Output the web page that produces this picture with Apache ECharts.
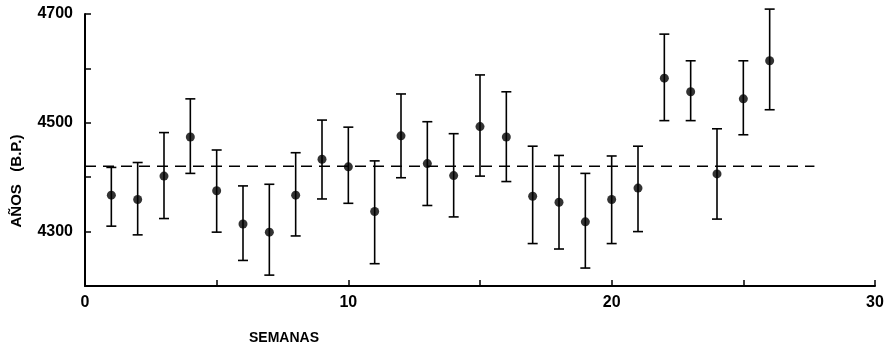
<!DOCTYPE html>
<html>
<head>
<meta charset="utf-8">
<script src="https://cdn.jsdelivr.net/npm/echarts@6/dist/echarts.min.js"></script>
<style>
html,body{margin:0;padding:0;background:#fff;}
#chart{width:894px;height:346px;}
</style>
</head>
<body>
<div id="chart"></div>
<script>
var weeks = [1,2,3,4,5,6,7,8,9,10,11,12,13,14,15,16,17,18,19,20,21,22,23,24,25,26];
var ages  = [4367,4359,4402,4474,4375,4314,4299,4367,4433,4419,4337,4476,4425,4403,4493,4474,4365,4354,4318,4359,4380,4582,4557,4406,4544,4614];
var lows  = [4310,4294,4324,4407,4299,4247,4220,4292,4360,4352,4241,4399,4348,4327,4402,4392,4278,4268,4233,4278,4300,4504,4504,4323,4478,4524];
var highs = [4418,4427,4482,4544,4450,4384,4387,4445,4505,4492,4430,4553,4502,4480,4588,4557,4457,4440,4407,4439,4457,4663,4614,4489,4614,4709];
var meanLine = [[0,4420],[27.7,4420]];
var yLabels = [4300,4500,4700];
var xLabels = [0,10,20,30];

var chart = echarts.init(document.getElementById('chart'));
var font = 'Liberation Sans';
var option = {
  animation:false,
  backgroundColor:'#fff',
  grid:{left:85,right:19,top:14,bottom:60},
  xAxis:{
    type:'value',min:0,max:30,interval:5,
    axisLine:{show:true,onZero:false,lineStyle:{color:'#000',width:2}},
    axisTick:{show:true,inside:true,length:6,lineStyle:{color:'#000',width:1.5}},
    splitLine:{show:false},
    axisLabel:{margin:9,color:'#000',fontFamily:font,fontSize:16,fontWeight:'bold',
      formatter:function(v){return xLabels.indexOf(v)>=0?String(v):'';}}
  },
  yAxis:{
    type:'value',min:4200,max:4700,interval:100,
    axisLine:{show:true,onZero:false,lineStyle:{color:'#000',width:2}},
    axisTick:{show:true,inside:true,length:6,lineStyle:{color:'#000',width:1.5}},
    splitLine:{show:false},
    axisLabel:{margin:12,color:'#000',fontFamily:font,fontSize:16,fontWeight:'bold',
      formatter:function(v){return yLabels.indexOf(v)>=0?String(v):'';}}
  },
  graphic:[
    {type:'text',x:284,y:338,style:{text:'SEMANAS',fill:'#000',font:'bold 14px "Liberation Sans"',align:'center',verticalAlign:'middle'}},
    {type:'text',x:17,y:181,rotation:Math.PI/2,style:{text:'AÑOS   (B.P.)',fill:'#000',font:'bold 15px "Liberation Sans"',align:'center',verticalAlign:'middle'}}
  ],
  series:[
    {type:'line',data:meanLine,symbol:'none',silent:true,
      lineStyle:{color:'#000',width:1.5,type:[11,7]},z:1},
    {type:'custom',
      data:weeks.map(function(w,i){return [w,lows[i],highs[i]];}),
      renderItem:function(params,api){
        var x=api.value(0);
        var lo=api.coord([x,api.value(1)]);
        var hi=api.coord([x,api.value(2)]);
        var hw=5;
        var st={stroke:'#000',lineWidth:1.6};
        return {type:'group',children:[
          {type:'line',shape:{x1:lo[0],y1:lo[1],x2:hi[0],y2:hi[1]},style:st},
          {type:'line',shape:{x1:lo[0]-hw,y1:lo[1],x2:lo[0]+hw,y2:lo[1]},style:st},
          {type:'line',shape:{x1:hi[0]-hw,y1:hi[1],x2:hi[0]+hw,y2:hi[1]},style:st}
        ]};
      },z:2},
    {type:'scatter',data:weeks.map(function(w,i){return [w,ages[i]];}),
      symbol:'circle',symbolSize:9,itemStyle:{color:'#000'},z:3}
  ]
};
chart.setOption(option);
</script>
</body>
</html>
